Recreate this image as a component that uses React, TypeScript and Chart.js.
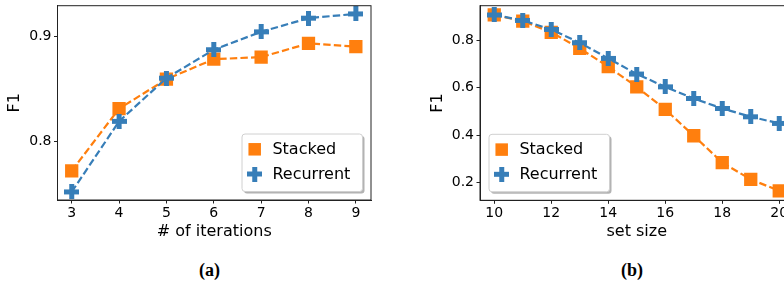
import React, { useEffect, useRef } from "react";
import { Chart, registerables } from "chart.js";

Chart.register(...registerables);

// ---- Data ----
const iterations = [3, 4, 5, 6, 7, 8, 9];
const stackedA = [0.772, 0.831, 0.859, 0.878, 0.880, 0.893, 0.890];
const recurrentA = [0.752, 0.819, 0.860, 0.887, 0.904, 0.917, 0.921];
const xTicksA = [3, 4, 5, 6, 7, 8, 9];
const yTicksA = [0.8, 0.9];

const setSizes = [10, 11, 12, 13, 14, 15, 16, 17, 18, 19, 20];
const stackedB = [0.907, 0.881, 0.834, 0.766, 0.689, 0.604, 0.509, 0.398, 0.285, 0.214, 0.166];
const recurrentB = [0.907, 0.884, 0.846, 0.790, 0.724, 0.658, 0.604, 0.555, 0.513, 0.478, 0.450];
const xTicksB = [10, 12, 14, 16, 18, 20];
const yTicksB = [0.2, 0.4, 0.6, 0.8];

const seriesNames = ["Stacked", "Recurrent"];

const ORANGE = "#ff7f0e";
const BLUE = "#377eb8";
const FONT = "'DejaVu Sans', sans-serif";

function makePlus(color: string, size: number, thick: number) {
  const c = document.createElement("canvas");
  c.width = size;
  c.height = size;
  const ctx = c.getContext("2d")!;
  ctx.fillStyle = color;
  const a = (size - thick) / 2;
  ctx.fillRect(a, 0, thick, size);
  ctx.fillRect(0, a, size, thick);
  return c;
}

function legendPlugin(corner: "br" | "bl", plus: HTMLCanvasElement) {
  return {
    id: "customLegend",
    afterDatasetsDraw(chart: any) {
      const { ctx, chartArea } = chart;
      const w = 120.5, h = 57.5;
      const left = corner === "br" ? chartArea.right - 8.5 - w : chartArea.left + 9;
      const top = chartArea.bottom - 8.5 - h;
      ctx.save();
      const rr = (x: number, y: number, ww: number, hh: number, r: number) => {
        ctx.beginPath();
        ctx.moveTo(x + r, y);
        ctx.lineTo(x + ww - r, y);
        ctx.quadraticCurveTo(x + ww, y, x + ww, y + r);
        ctx.lineTo(x + ww, y + hh - r);
        ctx.quadraticCurveTo(x + ww, y + hh, x + ww - r, y + hh);
        ctx.lineTo(x + r, y + hh);
        ctx.quadraticCurveTo(x, y + hh, x, y + hh - r);
        ctx.lineTo(x, y + r);
        ctx.quadraticCurveTo(x, y, x + r, y);
        ctx.closePath();
      };
      // shadow
      rr(left + 2, top + 2, w, h, 3);
      ctx.fillStyle = "rgba(128,128,128,0.6)";
      ctx.fill();
      rr(left, top, w, h, 3);
      ctx.fillStyle = "#ffffff";
      ctx.fill();
      ctx.strokeStyle = "#d0d0d0";
      ctx.lineWidth = 1;
      ctx.stroke();
      // entries
      const rows = [top + 15.3, top + 40];
      const mx = left + 12.7;
      const s = 12.5;
      ctx.fillStyle = ORANGE;
      ctx.fillRect(mx - s / 2, rows[0] - s / 2, s, s);
      ctx.drawImage(plus, mx - plus.width / 2, rows[1] - plus.height / 2);
      ctx.fillStyle = "#000";
      ctx.font = `16px ${FONT}`;
      ctx.textBaseline = "middle";
      ctx.textAlign = "left";
      ctx.fillText(seriesNames[0], left + 30.4, rows[0] + 0.5);
      ctx.fillText(seriesNames[1], left + 30.4, rows[1] + 0.5);
      ctx.restore();
    },
  };
}

const framePlugin = {
  id: "frame",
  afterDraw(chart: any) {
    const { ctx, chartArea } = chart;
    ctx.save();
    ctx.strokeStyle = "#222";
    ctx.lineWidth = 1;
    ctx.strokeRect(chartArea.left, chartArea.top, chartArea.right - chartArea.left, chartArea.bottom - chartArea.top);
    ctx.restore();
  },
};

function buildConfig(opts: {
  xs: number[];
  stacked: number[];
  recurrent: number[];
  xTicks: number[];
  yTicks: number[];
  xMin: number;
  xMax: number;
  yMin: number;
  yMax: number;
  xTitle: string;
  padLeft: number;
  yAxisWidth: number;
  padRight: number;
  xAxisHeight: number;
  corner: "br" | "bl";
}) {
  const plus = makePlus(BLUE, 15, 5);
  const commonDs = {
    borderWidth: 2.2,
    borderDash: [7.4, 3.2],
    tension: 0,
    fill: false,
  };
  return {
    type: "line" as const,
    data: {
      datasets: [
        {
          ...commonDs,
          label: seriesNames[1],
          data: opts.xs.map((x, i) => ({ x, y: opts.recurrent[i] })),
          borderColor: BLUE,
          backgroundColor: BLUE,
          pointStyle: plus,
          pointRadius: 7,
        },
        {
          ...commonDs,
          label: seriesNames[0],
          data: opts.xs.map((x, i) => ({ x, y: opts.stacked[i] })),
          borderColor: ORANGE,
          backgroundColor: ORANGE,
          pointStyle: "rect",
          pointRadius: 9.4,
          pointBorderWidth: 0,
        },
      ],
    },
    options: {
      responsive: false,
      animation: false,
      devicePixelRatio: 1,
      layout: {
        autoPadding: false,
        padding: { left: opts.padLeft, right: opts.padRight, top: 5.7, bottom: 0 },
      },
      plugins: { legend: { display: false }, tooltip: { enabled: false } },
      scales: {
        x: {
          type: "linear",
          min: opts.xMin,
          max: opts.xMax,
          afterBuildTicks: (s: any) => {
            s.ticks = opts.xTicks.map((v) => ({ value: v }));
          },
          afterFit: (s: any) => {
            s.height = opts.xAxisHeight;
            s.paddingLeft = 0;
            s.paddingRight = 0;
          },
          grid: { drawOnChartArea: false, drawTicks: true, tickLength: 3.5, color: "#222" },
          border: { display: true, color: "#222", width: 1 },
          ticks: {
            color: "#000",
            font: { family: FONT, size: 14 },
            padding: 1.5,
            maxRotation: 0,
            autoSkip: false,
            callback: (v: any) => String(v),
          },
          title: {
            display: true,
            text: opts.xTitle,
            color: "#000",
            font: { family: FONT, size: 16 },
            padding: 0,
          },
        },
        y: {
          type: "linear",
          min: opts.yMin,
          max: opts.yMax,
          afterBuildTicks: (s: any) => {
            s.ticks = opts.yTicks.map((v) => ({ value: v }));
          },
          afterFit: (s: any) => {
            s.width = opts.yAxisWidth;
            s.paddingTop = 0;
            s.paddingBottom = 0;
          },
          grid: { drawOnChartArea: false, drawTicks: true, tickLength: 3.5, color: "#222" },
          border: { display: true, color: "#222", width: 1 },
          ticks: {
            color: "#000",
            font: { family: FONT, size: 14 },
            padding: 2.5,
            autoSkip: false,
            callback: (v: any) => Number(v).toFixed(1),
          },
          title: {
            display: true,
            text: "F1",
            color: "#000",
            font: { family: FONT, size: 16 },
            padding: 0,
          },
        },
      },
    },
    plugins: [legendPlugin(opts.corner, plus), framePlugin],
  };
}

function ChartCanvas({ config, width, height, left }: { config: any; width: number; height: number; left: number }) {
  const ref = useRef<HTMLCanvasElement>(null);
  useEffect(() => {
    const chart = new Chart(ref.current!, config);
    return () => chart.destroy();
  }, []);
  return (
    <canvas
      ref={ref}
      width={width}
      height={height}
      style={{ position: "absolute", left, top: 0, width, height }}
    />
  );
}

export default function App() {
  const cfgA = buildConfig({
    xs: iterations,
    stacked: stackedA,
    recurrent: recurrentA,
    xTicks: xTicksA,
    yTicks: yTicksA,
    xMin: 2.7,
    xMax: 9.32,
    yMin: 0.7443,
    yMax: 0.9288,
    xTitle: "# of iterations",
    padLeft: 5.4,
    yAxisWidth: 52.1,
    padRight: 19,
    xAxisHeight: 41,
    corner: "br",
  });
  const cfgB = buildConfig({
    xs: setSizes,
    stacked: stackedB,
    recurrent: recurrentB,
    xTicks: xTicksB,
    yTicks: yTicksB,
    xMin: 9.5,
    xMax: 20.5,
    yMin: 0.126,
    yMax: 0.946,
    xTitle: "set size",
    padLeft: 38.4,
    yAxisWidth: 51.6,
    padRight: 16.5,
    xAxisHeight: 40.7,
    corner: "bl",
  });
  const caption: React.CSSProperties = {
    position: "absolute",
    top: 270,
    transform: "translate(-50%, -50%)",
    fontFamily: "'Liberation Serif', 'Times New Roman', serif",
    fontWeight: "bold",
    fontSize: 18,
    lineHeight: 1,
    color: "#000",
    whiteSpace: "nowrap",
  };
  return (
    <div
      style={{
        position: "fixed",
        left: 0,
        top: 0,
        width: 784,
        height: 281,
        overflow: "hidden",
        background: "#fff",
      }}
    >
      <ChartCanvas config={cfgA} width={390} height={241} left={0} />
      <ChartCanvas config={cfgB} width={420} height={241} left={390} />
      <div style={{ ...caption, left: 209.5 }}>(a)</div>
      <div style={{ ...caption, left: 632 }}>(b)</div>
    </div>
  );
}
